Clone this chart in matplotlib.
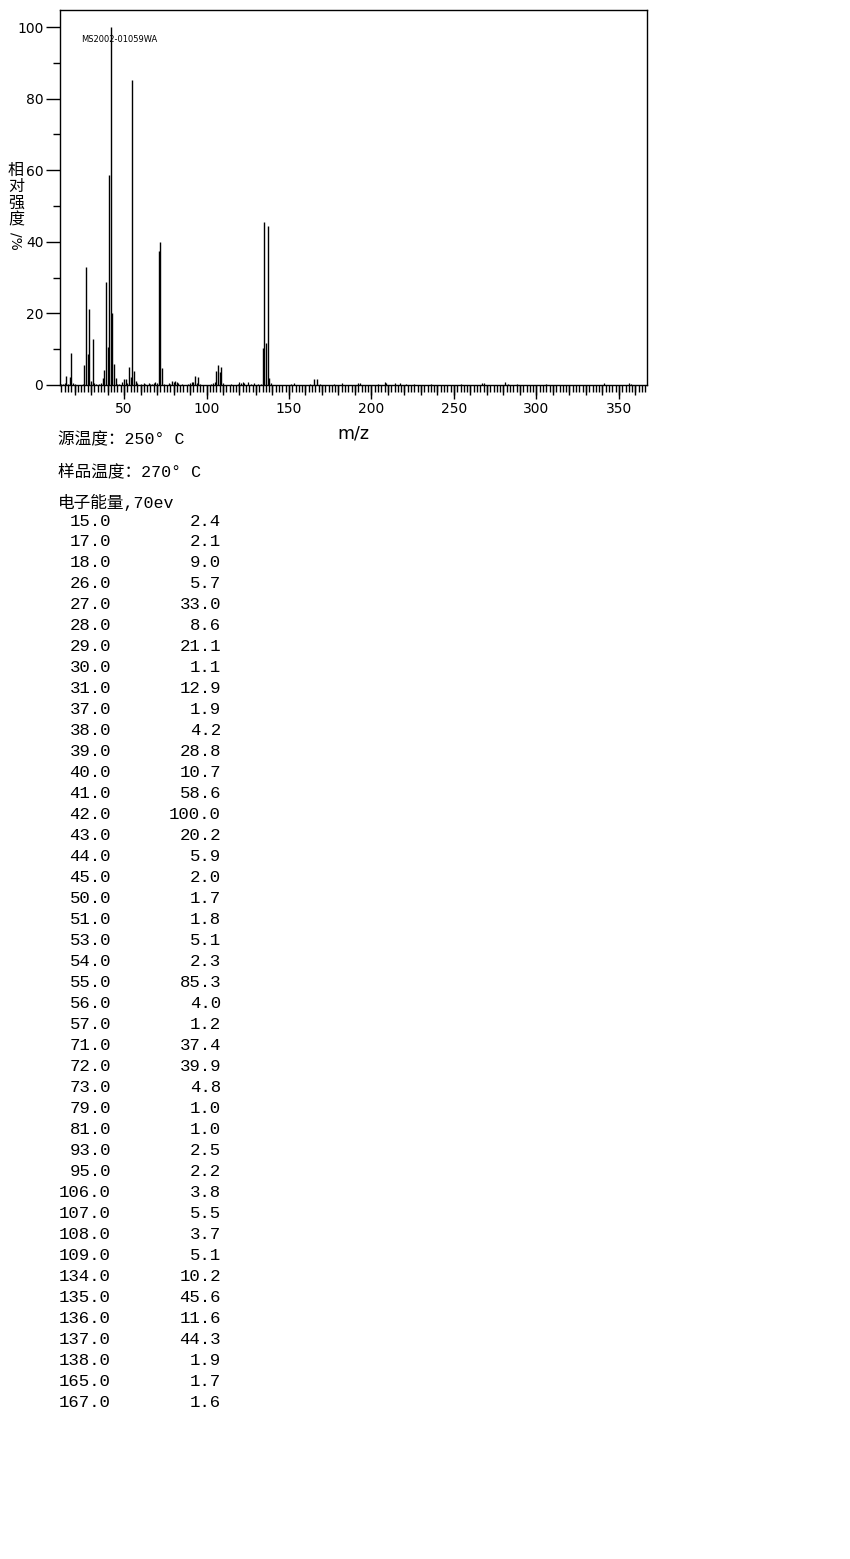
import matplotlib
matplotlib.use('Agg')
import matplotlib.pyplot as plt
from matplotlib.ticker import MultipleLocator

plt.rcParams['font.family'] = ['DejaVu Sans', 'Noto Sans CJK SC']

# listed peaks (m/z, relative intensity %)
mz = [15, 17, 18, 26, 27, 28, 29, 30, 31, 37, 38, 39, 40, 41, 42, 43, 44, 45,
      50, 51, 53, 54, 55, 56, 57, 71, 72, 73, 79, 81, 93, 95, 106, 107, 108,
      109, 134, 135, 136, 137, 138, 165, 167]
intensity = [2.4, 2.1, 9.0, 5.7, 33.0, 8.6, 21.1, 1.1, 12.9, 1.9, 4.2, 28.8,
             10.7, 58.6, 100.0, 20.2, 5.9, 2.0, 1.7, 1.8, 5.1, 2.3, 85.3, 4.0,
             1.2, 37.4, 39.9, 4.8, 1.0, 1.0, 2.5, 2.2, 3.8, 5.5, 3.7, 5.1, 10.2,
             45.6, 11.6, 44.3, 1.9, 1.7, 1.6]

# small unlisted peaks (<1 %), estimated from the spectrum
minor_mz = [12, 13, 14, 16, 19, 20, 25, 32, 33, 35, 36, 46, 47, 49, 52, 58,
            60, 62, 63, 65, 66, 67, 68, 69, 70, 74, 77, 78, 80, 82, 83, 85, 89,
            90, 91, 92, 94, 96, 103, 104, 105, 110, 115, 119, 120, 121, 122,
            123, 125, 127, 129, 131, 133, 139, 151, 153, 163, 169, 177, 182,
            192, 193, 204, 208, 209, 214, 217, 221, 226, 236, 254, 267, 268,
            281, 283, 288, 306, 341, 356, 357]
minor_int = [0.3, 0.4, 0.5, 0.4, 0.6, 0.3, 0.4, 0.5, 0.4, 0.3, 0.5, 0.4, 0.3,
             0.7, 0.6, 0.5, 0.4, 0.5, 0.4, 0.5, 0.3, 0.4, 0.6, 0.7, 0.5, 0.4,
             0.5, 0.4, 0.8, 0.9, 0.5, 0.4, 0.4, 0.6, 0.8, 0.7, 0.5, 0.4, 0.4,
             0.6, 0.7, 0.5, 0.4, 0.3, 0.8, 0.6, 0.7, 0.5, 0.8, 0.4, 0.5, 0.3,
             0.4, 0.5, 0.4, 0.5, 0.3, 0.4, 0.3, 0.5, 0.6, 0.5, 0.4, 0.7, 0.5,
             0.6, 0.5, 0.3, 0.3, 0.3, 0.4, 0.6, 0.5, 0.9, 0.4, 0.4, 0.3, 0.5,
             0.5, 0.4]

W, H = 850, 1559
fig = plt.figure(figsize=(W / 100, H / 100), dpi=100)

ax = fig.add_axes([60 / W, 1 - 385 / H, 587 / W, 375 / H])
ax.vlines(mz, 0, intensity, color='black', linewidth=1.0)
ax.vlines(minor_mz, 0, minor_int, color='black', linewidth=0.9)
ax.set_xlim(11.2, 367)
ax.set_ylim(0, 104.75)

ax.xaxis.set_major_locator(MultipleLocator(50))
ax.xaxis.set_minor_locator(MultipleLocator(2))
ax.yaxis.set_major_locator(MultipleLocator(20))
ax.yaxis.set_minor_locator(MultipleLocator(10))
ax.tick_params(axis='both', which='major', direction='out', length=10,
               width=1, labelsize=10, color='black')
ax.tick_params(axis='x', which='minor', direction='out', length=5, width=1)
ax.tick_params(axis='y', which='minor', direction='out', length=5, width=1)
ax.tick_params(axis='x', pad=2)
ax.tick_params(axis='y', pad=2)

# medium ticks every 10
sec = ax.secondary_xaxis('bottom')
sec.xaxis.set_major_locator(MultipleLocator(10))
sec.tick_params(axis='x', direction='out', length=7, width=1, labelbottom=False)
sec.spines['bottom'].set_visible(False)

for s in ax.spines.values():
    s.set_linewidth(1)

ax.text(81 / W, 1 - 39 / H, 'MS2002-01059WA', fontsize=6, va='center',
        ha='left', transform=fig.transFigure)

fig.text(353 / W, 1 - 433 / H, 'm/z', fontsize=12.5, ha='center', va='center')

# vertical y label
ylab_chars = ['相', '对', '强', '度']
for i, ch in enumerate(ylab_chars):
    fig.text(16 / W, 1 - (170 + 16.8 * i) / H, ch, fontsize=11.5,
             ha='center', va='center', family=['Noto Sans CJK SC'])
fig.text(16 / W, 1 - 241 / H, '/%', fontsize=10, rotation=270,
         ha='center', va='center')

mono = ['Liberation Mono', 'Noto Sans CJK SC']
fig.text(58 / W, 1 - 439 / H, '源温度：250° C', fontsize=12,
         ha='left', va='center', family=mono)
fig.text(58 / W, 1 - 471 / H, '样品温度：270° C', fontsize=12,
         ha='left', va='center', family=mono)
fig.text(58 / W, 1 - 502 / H, '电子能量,70ev', fontsize=12,
         ha='left', va='center', family=mono)

for i, (m, v) in enumerate(zip(mz, intensity)):
    y = 1 - (521 + 20.98 * i) / H
    fig.text(111 / W, y, '%.1f' % m, fontsize=12.5, ha='right', va='center',
             family='Liberation Mono')
    fig.text(221 / W, y, '%.1f' % v, fontsize=12.5, ha='right', va='center',
             family='Liberation Mono')

fig.savefig('out.png', dpi=100)
